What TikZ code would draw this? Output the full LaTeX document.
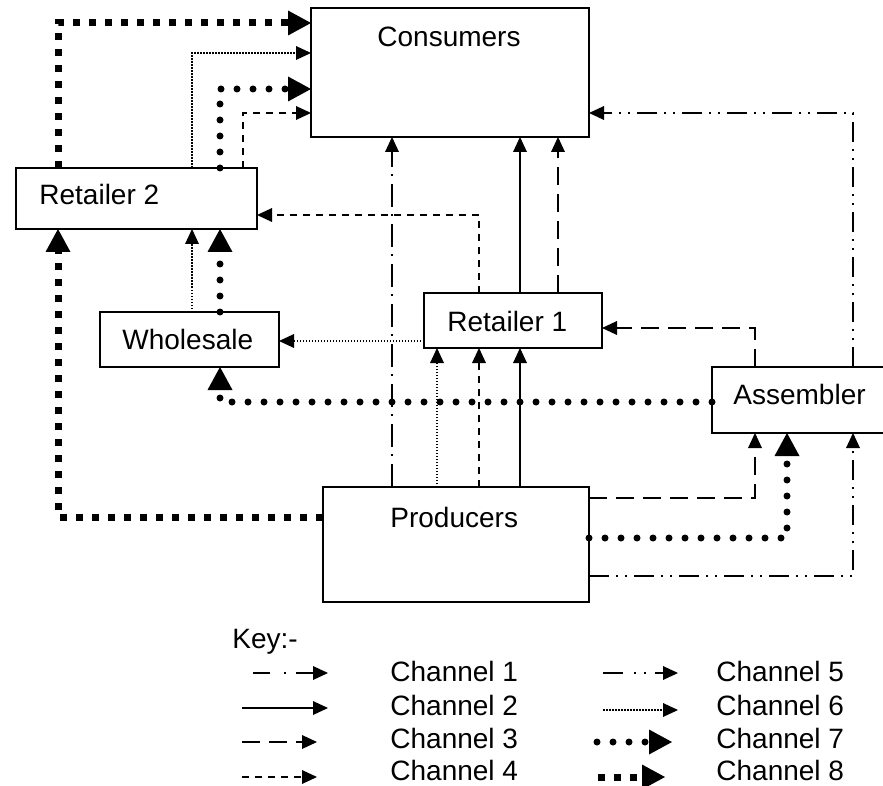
\documentclass[tikz,border=0pt]{standalone}
\usepackage{fontspec}
\setmainfont{Liberation Sans}
\usetikzlibrary{arrows.meta,fit}
\begin{document}
\begin{tikzpicture}[x=0.5pt,y=-0.5pt,
 box/.style={draw, line width=1pt, inner sep=0pt, outer sep=0pt, rectangle},
 lbl/.style={anchor=base west, inner sep=0pt, font=\fontsize{14}{16}\selectfont},
 sarr/.style={-{Triangle[length=7.5pt,width=7pt,line width=0pt]}},
 barr/.style={-{Triangle[length=11.5pt,width=12.5pt,line width=0pt]}},
 chone/.style={sarr, line width=0.9pt, dash pattern=on 11.5pt off 4pt on 1pt off 3.5pt},
 chtwo/.style={sarr, line width=1pt},
 chthree/.style={sarr, line width=1pt, dash pattern=on 9pt off 4.5pt},
 chfour/.style={sarr, line width=0.8pt, dash pattern=on 3.5pt off 3pt},
 chfive/.style={sarr, line width=0.7pt, dash pattern=on 10pt off 3.5pt on 1pt off 3.5pt on 1pt off 3.5pt},
 chsix/.style={sarr, line width=0.6pt, dash pattern=on 0.75pt off 0.75pt},
 chseven/.style={barr, line width=3.5pt, line cap=round, dash pattern=on 0pt off 8pt},
 cheight/.style={barr, line width=3.5pt, dash pattern=on 3.5pt off 4.5pt},
]
\useasboundingbox (0,0) rectangle (883,786);

% boxes
\node[box, fit={(311,8) (589,137)}] (cons) {};
\node[box, fit={(16,168) (257,229)}] (rtwo) {};
\node[box, fit={(100,312) (279,367)}] (whole) {};
\node[box, fit={(424,293) (602,348)}] (rone) {};
\node[box, fit={(712,367) (892,433)}] (asm) {};
\node[box, fit={(323,487) (589,602)}] (prod) {};

% labels
\node[lbl] (tcons) at (377,47) {Consumers};
\node[lbl] (trtwo) at (39,205) {Retailer 2};
\node[lbl] (twhole) at (122,349) {Wholesale};
\node[lbl] (trone) at (447,331) {Retailer 1};
\node[lbl] (tasm) at (733,404) {Assembler};
\node[lbl] (tprod) at (390,527) {Producers};

% bend / line coordinates
\coordinate (b8a) at (58,23);
\coordinate (b8b) at (58,517);
\coordinate (b6a) at (192,53);
\coordinate (b7a) at (220,89);
\coordinate (b4a) at (243,113);
\coordinate (b4b) at (479,215);
\coordinate (b7c) at (220,402);
\coordinate (b3b) at (755,328);
\coordinate (b5a) at (853,113);
\coordinate (b3c) at (755,498);
\coordinate (b7d) at (787,538);
\coordinate (b5b) at (853,576);
\coordinate (h6c) at (0,341);
\coordinate (v6d) at (437,0);
\coordinate (vone) at (392,0);
\coordinate (vtwo) at (520,0);
\coordinate (vthree) at (558,0);

% channel 8
\draw[cheight] (rtwo.north -| b8a) -- (b8a) -- (cons.west |- b8a);
\draw[cheight] (prod.west |- b8b) -- (b8b) -- (rtwo.south -| b8b);
% channel 6
\draw[chsix] (rtwo.north -| b6a) -- (b6a) -- (cons.west |- b6a);
\draw[chsix] (whole.north -| b6a) -- (rtwo.south -| b6a);
\draw[chsix] (rone.west |- h6c) -- (whole.east |- h6c);
\draw[chsix] (prod.north -| v6d) -- (rone.south -| v6d);
% channel 7
\draw[chseven] (rtwo.north -| b7a) -- (b7a) -- (cons.west |- b7a);
\draw[chseven] (whole.north -| b7a) -- (rtwo.south -| b7a);
\draw[chseven] (asm.west |- b7c) -- (b7c) -- (whole.south -| b7c);
\draw[chseven] (prod.east |- b7d) -- (b7d) -- (asm.south -| b7d);
% channel 4
\draw[chfour] (rtwo.north -| b4a) -- (b4a) -- (cons.west |- b4a);
\draw[chfour] (rone.north -| b4b) -- (b4b) -- (rtwo.east |- b4b);
\draw[chfour] (prod.north -| b4b) -- (rone.south -| b4b);
% channel 1
\draw[chone] (prod.north -| vone) -- (cons.south -| vone);
% channel 2
\draw[chtwo] (rone.north -| vtwo) -- (cons.south -| vtwo);
\draw[chtwo] (prod.north -| vtwo) -- (rone.south -| vtwo);
% channel 3
\draw[chthree] (rone.north -| vthree) -- (cons.south -| vthree);
\draw[chthree] (asm.north -| b3b) -- (b3b) -- (rone.east |- b3b);
\draw[chthree] (prod.east |- b3c) -- (b3c) -- (asm.south -| b3c);
% channel 5
\draw[chfive] (asm.north -| b5a) -- (b5a) -- (cons.east |- b5a);
\draw[chfive] (prod.east |- b5b) -- (b5b) -- (asm.south -| b5b);

% key
\node[lbl] (tkey) at (232,648) {Key:-};
\node[lbl] (tc1) at (390,681) {Channel 1};
\node[lbl] (tc2) at (390,715) {Channel 2};
\node[lbl] (tc3) at (390,748) {Channel 3};
\node[lbl] (tc4) at (390,780) {Channel 4};
\node[lbl] (tc5) at (716,681) {Channel 5};
\node[lbl] (tc6) at (716,715) {Channel 6};
\node[lbl] (tc7) at (716,748) {Channel 7};
\node[lbl] (tc8) at (716,780) {Channel 8};

\coordinate (k1a) at (253,673); \coordinate (k1b) at (328,673);
\coordinate (k2a) at (242,708); \coordinate (k2b) at (328,708);
\coordinate (k3a) at (242,742); \coordinate (k3b) at (317,742);
\coordinate (k4a) at (242,777); \coordinate (k4b) at (317,777);
\coordinate (k5a) at (603,673); \coordinate (k5b) at (678,673);
\coordinate (k6a) at (603,710); \coordinate (k6b) at (678,710);
\coordinate (k7a) at (597,742); \coordinate (k7b) at (672,742);
\coordinate (k8a) at (598,777); \coordinate (k8b) at (665,777);

\draw[chone, dash pattern=on 8.5pt off 7pt on 1pt off 5pt] (k1a) -- (k1b);
\draw[chtwo] (k2a) -- (k2b);
\draw[chthree] (k3a) -- (k3b);
\draw[chfour] (k4a) -- (k4b);
\draw[chfive, dash pattern=on 10pt off 5.5pt on 1pt off 4pt on 1pt off 4.5pt] (k5a) -- (k5b);
\draw[chsix] (k6a) -- (k6b);
\draw[chseven] (k7a) -- (k7b);
\draw[cheight] (k8a) -- (k8b);
\end{tikzpicture}
\end{document}
